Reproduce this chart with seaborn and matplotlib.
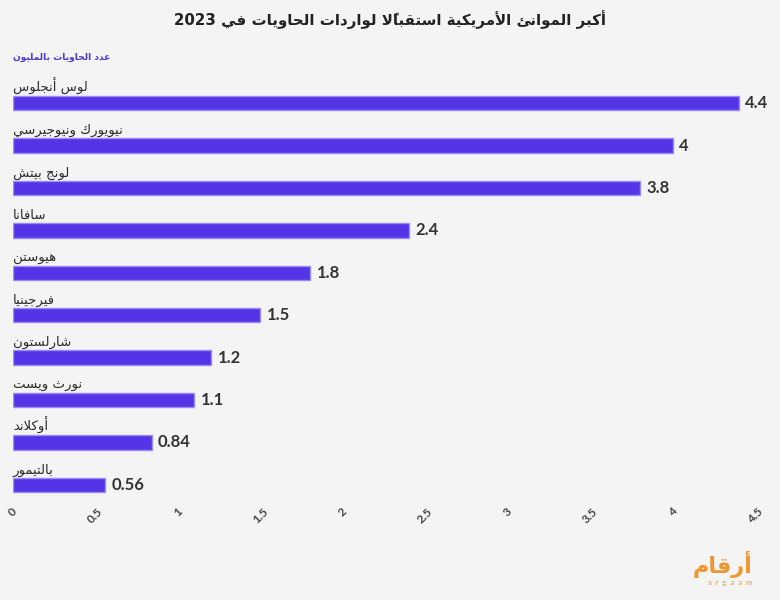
import re
import pandas as pd
import seaborn as sns
import matplotlib.pyplot as plt

# البيانات
ports = ['لوس أنجلوس', 'نيويورك ونيوجيرسي', 'لونج بيتش', 'سافانا', 'هيوستن',
         'فيرجينيا', 'شارلستون', 'نورث ويست', 'أوكلاند', 'بالتيمور']
containers = [4.4, 4, 3.8, 2.4, 1.8, 1.5, 1.2, 1.1, 0.84, 0.56]
xticks = [0, 0.5, 1, 1.5, 2, 2.5, 3, 3.5, 4, 4.5]
xtick_labels = ['0', '0.5', '1', '1.5', '2', '2.5', '3', '3.5', '4', '4.5']

title = 'أكبر الموانئ الأمريكية استقبالًا لواردات الحاويات في 2023'
subtitle = 'عدد الحاويات بالمليون'
logo = 'أرقام'

# تشكيل الحروف العربية يدويا (matplotlib لا يدعم الربط ولا الاتجاه)
AR_FORMS = {
    'ء': (0xFE80, 1), 'آ': (0xFE81, 2), 'أ': (0xFE83, 2), 'ؤ': (0xFE85, 2),
    'إ': (0xFE87, 2), 'ئ': (0xFE89, 4), 'ا': (0xFE8D, 2), 'ب': (0xFE8F, 4),
    'ة': (0xFE93, 2), 'ت': (0xFE95, 4), 'ث': (0xFE99, 4), 'ج': (0xFE9D, 4),
    'ح': (0xFEA1, 4), 'خ': (0xFEA5, 4), 'د': (0xFEA9, 2), 'ذ': (0xFEAB, 2),
    'ر': (0xFEAD, 2), 'ز': (0xFEAF, 2), 'س': (0xFEB1, 4), 'ش': (0xFEB5, 4),
    'ص': (0xFEB9, 4), 'ض': (0xFEBD, 4), 'ط': (0xFEC1, 4), 'ظ': (0xFEC5, 4),
    'ع': (0xFEC9, 4), 'غ': (0xFECD, 4), 'ف': (0xFED1, 4), 'ق': (0xFED5, 4),
    'ك': (0xFED9, 4), 'ل': (0xFEDD, 4), 'م': (0xFEE1, 4), 'ن': (0xFEE5, 4),
    'ه': (0xFEE9, 4), 'و': (0xFEED, 2), 'ى': (0xFEEF, 2), 'ي': (0xFEF1, 4),
}
LAM_ALEF = {'آ': 0xFEF5, 'أ': 0xFEF7, 'إ': 0xFEF9, 'ا': 0xFEFB}


def is_mark(ch):
    return 0x064B <= ord(ch) <= 0x0652 or ord(ch) == 0x0670


def ar(text):
    clusters = []
    for ch in text:
        if is_mark(ch) and clusters:
            clusters[-1][1].append(ch)
        else:
            clusters.append([ch, []])
    merged = []
    i = 0
    while i < len(clusters):
        base, marks = clusters[i]
        if base == 'ل' and i + 1 < len(clusters) and clusters[i + 1][0] in LAM_ALEF:
            merged.append([('LA', clusters[i + 1][0]), marks + clusters[i + 1][1]])
            i += 2
        else:
            merged.append([base, marks])
            i += 1

    def n_forms(b):
        if isinstance(b, tuple):
            return 2
        return AR_FORMS.get(b, (0, 0))[1]

    out = []
    for i, (base, marks) in enumerate(merged):
        n = n_forms(base)
        prev_n = n_forms(merged[i - 1][0]) if i > 0 else 0
        next_n = n_forms(merged[i + 1][0]) if i + 1 < len(merged) else 0
        jp = n >= 2 and prev_n == 4
        jn = n == 4 and next_n >= 2
        if isinstance(base, tuple):
            g = chr(LAM_ALEF[base[1]] + (1 if jp else 0))
        elif n == 0:
            g = base
        else:
            start = AR_FORMS[base][0]
            idx = 3 if (jp and jn) else 1 if jp else 2 if jn else 0
            g = chr(start + idx)
        out.append(g + ''.join(marks))
    s = ''.join(reversed(out))
    return re.sub(r'[0-9A-Za-z.]+', lambda m: m.group(0)[::-1], s)


df = pd.DataFrame({'port': ports, 'value': containers})

sns.set_style('white')
plt.rcParams['font.family'] = ['DejaVu Sans']

fig = plt.figure(figsize=(7.8, 6), dpi=100, facecolor='#f4f4f4')
ax = fig.add_axes([13 / 780, 1 - 506 / 600, 742 / 780, (506 - 82) / 600])
ax.set_facecolor('#f4f4f4')

sns.barplot(data=df, x='value', y='port', orient='h', color='#5534e8',
            saturation=1, width=0.34, edgecolor='#9b8af2', linewidth=1, ax=ax)

for i, (p, v) in enumerate(zip(ports, containers)):
    ax.text(0, i - 0.27, ar(p), ha='left', va='baseline', fontsize=9.5,
            color='#2a2a2a')
    ax.text(v + 0.04, i, f'{v:g}', ha='left', va='center', fontsize=12,
            fontweight='bold', family='Lato', color='#333333')

ax.set_xlim(0, 4.5)
ax.set_xticks(xticks)
ax.set_xticklabels(xtick_labels, rotation=45, fontsize=8.5, color='#444444',
                   family='Lato', fontweight='bold')
ax.set_yticks([])
ax.set_xlabel('')
ax.set_ylabel('')
ax.tick_params(axis='x', length=0, pad=0)
sns.despine(ax=ax, left=True, bottom=True)

fig.text(0.5, 1 - 20 / 600, ar(title), ha='center', va='center', fontsize=10.8,
         fontweight='bold', color='#222222')
fig.text(110 / 780, 1 - 57 / 600, ar(subtitle), ha='right', va='center',
         fontsize=6.6, fontweight='bold', color='#4b3bd0')

fig.text(752 / 780, 1 - 564 / 600, ar(logo), ha='right', va='center',
         fontsize=16, fontweight='bold', color='#f0962f')
fig.text(752 / 780, 1 - 582 / 600, 'a  r  g  a  a  m', ha='right', va='center',
         fontsize=5.5, color='#f0962f', family='Lato')

fig.savefig('out.png', dpi=100, facecolor=fig.get_facecolor())
